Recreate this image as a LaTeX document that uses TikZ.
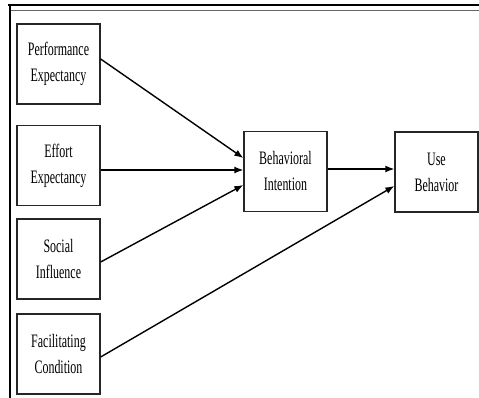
\documentclass[tikz,border=0pt]{standalone}
\usepackage{fontspec}
\setmainfont{Liberation Serif}
\newfontfamily\narrowfont[FakeStretch=0.63]{Liberation Serif}
\usetikzlibrary{arrows.meta}
\tikzset{
  box/.style={draw=black!85, line width=1.3pt, fill=white, minimum width=83pt, minimum height=80pt,
    align=center, inner sep=0pt, font=\narrowfont\fontsize{19}{26}\selectfont},
  conn/.style={line width=1.4pt, -{Latex[length=9pt,width=7pt]}}
}
\begin{document}
\begin{tikzpicture}[x=1pt,y=-1pt]
\useasboundingbox (0,0) rectangle (479,398);
% frame
\draw[line width=2pt] (8,5.5) -- (479,5.5);
\draw[line width=1pt, black!60] (10,10.5) -- (479,10.5);
\draw[line width=2pt] (9.5,4.5) -- (9.5,398);
% nodes
\node[box] (perf) at (58.5,64) {Performance\\Expectancy};
\node[box] (eff) at (58.5,165.5) {Effort\\Expectancy};
\node[box] (soc) at (58.5,259) {Social\\Influence};
\node[box] (fac) at (58.5,354) {Facilitating\\Condition};
\node[box] (bi) at (285.5,171.5) {Behavioral\\Intention};
\node[box] (ub) at (436.5,172) {Use\\Behavior};
% connectors
\draw[conn] ([yshift=5pt]perf.east) -- ([yshift=13.5pt]bi.west);
\draw[conn] ([yshift=-4.5pt]eff.east) -- ([yshift=1.5pt]bi.west);
\draw[conn] ([yshift=-3pt]soc.east) -- ([yshift=-13.5pt]bi.west);
\draw[conn] ([yshift=2.5pt]bi.east) -- ([yshift=3pt]ub.west);
\draw[conn] ([yshift=-3pt]fac.east) -- ([yshift=-14pt]ub.west);
\end{tikzpicture}
\end{document}
